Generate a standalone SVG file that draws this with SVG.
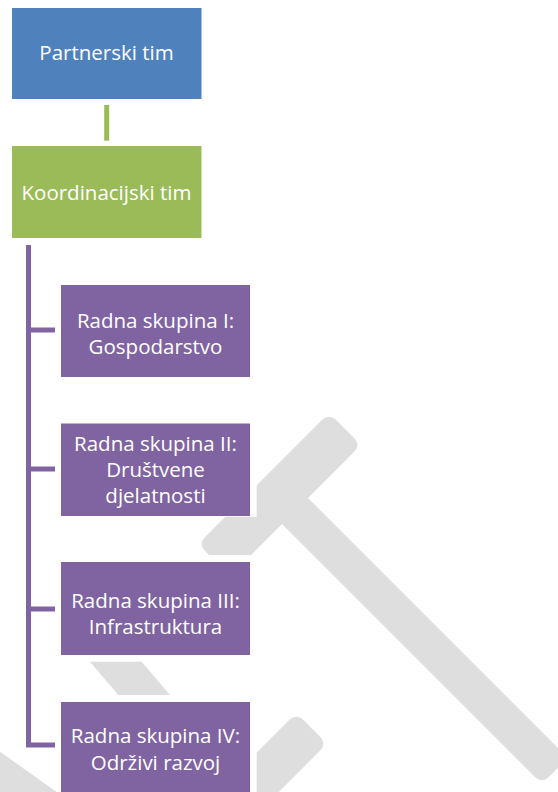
<svg xmlns="http://www.w3.org/2000/svg" width="558" height="792" viewBox="0 0 558 792">
  <style>
    .wm { fill: #dedede; }
    .lbl { font-family: "Open Sans", "Liberation Sans", sans-serif; font-size: 20.5px; fill: #ffffff; text-anchor: middle; }
    .conn { fill: none; stroke-width: 5; stroke-linecap: butt; stroke-linejoin: miter; }
  </style>
  <defs>
    <clipPath id="clipHammer">
      <path d="M256.7,0 H558 V792 H262 V555 H0 V516.7 H256.7 Z"/>
    </clipPath>
    <clipPath id="clipRight">
      <rect x="256.7" y="0" width="302" height="792"/>
    </clipPath>
  </defs>
  <rect width="558" height="792" fill="#ffffff"/>

  <g id="watermark">
    <g clip-path="url(#clipHammer)">
      <rect class="wm" x="-92.6" y="-22.6" width="185.3" height="45.3" rx="9" transform="translate(279.5,494.5) rotate(-45)"/>
      <rect class="wm" x="-195" y="-18.4" width="390" height="36.8" rx="9" transform="translate(417,633) rotate(45)"/>
    </g>
    <polygon class="wm" points="90,661.7 141.7,661.7 170,695 118.3,695"/>
    <g clip-path="url(#clipRight)">
      <rect class="wm" x="-60" y="-21.7" width="120" height="43.4" rx="9" transform="translate(294,746) rotate(-45) translate(-35,0)"/>
    </g>
    <polygon class="wm" points="0,751.7 56.7,792 0,792"/>
  </g>

  <g id="connectors">
    <line class="conn" stroke="#9bbb59" x1="106.7" y1="105" x2="106.7" y2="140.7"/>
    <path class="conn" stroke="#8064a2" d="M28.5,245 V745 H55 M28.5,330 H55 M28.5,469 H55 M28.5,609 H55"/>
  </g>

  <g id="partnerski">
    <rect x="12" y="8" width="189.5" height="91" fill="#4f81bd"/>
    <text class="lbl" x="106.5" y="60">Partnerski tim</text>
  </g>
  <g id="koordinacijski">
    <rect x="12" y="146" width="189.5" height="92" fill="#9bbb59"/>
    <text class="lbl" x="106.5" y="199.5">Koordinacijski tim</text>
  </g>
  <g id="skupina1">
    <rect x="61" y="285" width="189" height="92" fill="#8064a2"/>
    <text class="lbl" x="155.5" y="328.3">Radna skupina I:</text>
    <text class="lbl" x="155.5" y="354.3">Gospodarstvo</text>
  </g>
  <g id="skupina2">
    <rect x="61" y="423.5" width="189" height="92.5" fill="#8064a2"/>
    <text class="lbl" x="155.5" y="450.5">Radna skupina II:</text>
    <text class="lbl" x="155.5" y="477">Društvene</text>
    <text class="lbl" x="155.5" y="503">djelatnosti</text>
  </g>
  <g id="skupina3">
    <rect x="61" y="562" width="189" height="93" fill="#8064a2"/>
    <text class="lbl" x="155.5" y="608.3">Radna skupina III:</text>
    <text class="lbl" x="155.5" y="634.3">Infrastruktura</text>
  </g>
  <g id="skupina4">
    <rect x="61" y="702" width="189" height="92" fill="#8064a2"/>
    <text class="lbl" x="155.5" y="743.3">Radna skupina IV:</text>
    <text class="lbl" x="155.5" y="769.5">Održivi razvoj</text>
  </g>
</svg>
